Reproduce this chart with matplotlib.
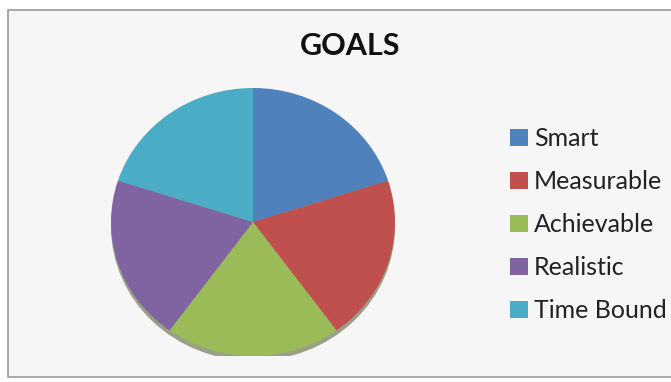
import matplotlib.pyplot as plt
from matplotlib.patches import Rectangle, Ellipse

# chart data
labels = ["Smart", "Measurable", "Achievable", "Realistic", "Time Bound"]
values = [20, 20, 20, 20, 20]
colors = ["#4F81BD", "#C0504D", "#9BBB59", "#8064A2", "#4BACC6"]
title = "GOALS"

plt.rcParams['font.family'] = ['Lato', 'DejaVu Sans']

fig = plt.figure(figsize=(6.71, 3.82), dpi=100)
fig.patch.set_facecolor("white")

# chart frame
fig.patches.append(Rectangle((8/671, 1-377/382), 1.0, 367/382, transform=fig.transFigure,
                             facecolor="#f6f6f6", edgecolor="#9a9a9a", lw=1.2, zorder=0))

ax = fig.add_axes([111/671, 1-356/382, 284/671, 268/382])
ax.set_zorder(2)
ax.set_facecolor("none")
# soft shadow under the pie
ax.add_patch(Ellipse((0.0, -0.035), 2.0, 2.0, facecolor="#4d5a2a", alpha=0.55, lw=0, zorder=0))
wedges, _ = ax.pie(values, colors=colors, startangle=90, counterclock=False,
                   wedgeprops=dict(lw=0), radius=1.0)
ax.set_aspect('auto')
ax.set_xlim(-1.0, 1.0)
ax.set_ylim(-1.0, 1.0)
ax.axis('off')

fig.text(350/671, 1-46/382, title, ha='center', va='center', fontsize=22, fontweight='bold', color='#111111')

leg = fig.legend(wedges, labels, loc='upper left', bbox_to_anchor=(500/671, 1-117/382),
                 frameon=False, fontsize=18, handlelength=0.7, handleheight=0.7,
                 handletextpad=0.25, labelspacing=0.8, borderaxespad=0)
leg.set_zorder(3)
for t in leg.get_texts():
    t.set_color('#222222')

fig.savefig("out.png", dpi=100)
